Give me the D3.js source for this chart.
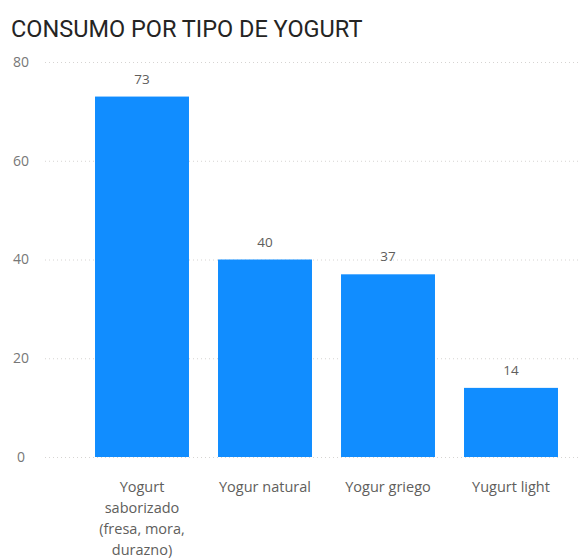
<!DOCTYPE html>
<html>
<head>
<meta charset="utf-8">
<script src="https://cdn.jsdelivr.net/npm/d3@7"></script>
<style>
  html, body { margin: 0; padding: 0; background: #fff; }
  svg { display: block; }
</style>
</head>
<body>
<svg id="chart" width="581" height="560"></svg>
<script>
// Consumption by yogurt type
const categories = [
  ["Yogurt", "saborizado", "(fresa, mora,", "durazno)"],
  ["Yogur natural"],
  ["Yogur griego"],
  ["Yugurt light"]
];
const values = [73, 40, 37, 14];
const yTicks = [0, 20, 40, 60, 80];
const title = "CONSUMO POR TIPO DE YOGURT";

const svg = d3.select("#chart");
const keys = categories.map(c => c.join(" "));

const x = d3.scaleBand()
  .domain(keys)
  .range([80.5, 572.5])
  .paddingInner(0.236)
  .paddingOuter(0.118);

const y = d3.scaleLinear()
  .domain([0, 80])
  .range([457, 62]);

const textFont = "'Open Sans', 'Noto Sans', sans-serif";

// Title
svg.append("text")
  .attr("x", 11)
  .attr("y", 37)
  .attr("font-family", "'Roboto', sans-serif")
  .attr("font-size", 23.5)
  .attr("fill", "#252423")
  .text(title);

// Gridlines (dotted)
svg.append("g")
  .selectAll("line")
  .data(yTicks)
  .join("line")
  .attr("x1", 45)
  .attr("x2", 581)
  .attr("y1", d => y(d) + 0.5)
  .attr("y2", d => y(d) + 0.5)
  .attr("stroke", "#d6d4d2")
  .attr("stroke-width", 1)
  .attr("stroke-dasharray", "1,3");

// Y axis labels
const yAxis = d3.axisLeft(y).tickValues(yTicks).tickSize(0).tickPadding(0);
const gy = svg.append("g").attr("transform", "translate(21,0)").call(yAxis);
gy.select(".domain").remove();
gy.selectAll("text")
  .attr("text-anchor", "middle")
  .attr("font-family", textFont)
  .attr("font-size", 14)
  .attr("fill", "#777");

// Bars
svg.append("g")
  .selectAll("rect")
  .data(values)
  .join("rect")
  .attr("x", (d, i) => x(keys[i]))
  .attr("y", d => y(d))
  .attr("width", x.bandwidth())
  .attr("height", d => y(0) - y(d))
  .attr("fill", "#118DFF");

// Value labels
svg.append("g")
  .selectAll("text")
  .data(values)
  .join("text")
  .attr("x", (d, i) => x(keys[i]) + x.bandwidth() / 2)
  .attr("y", d => y(d) - 13)
  .attr("text-anchor", "middle")
  .attr("font-family", textFont)
  .attr("font-size", 13.5)
  .attr("fill", "#605E5C")
  .text(d => d);

// Category labels (wrapped)
const gx = svg.append("g");
categories.forEach((lines, i) => {
  const t = gx.append("text")
    .attr("x", x(keys[i]) + x.bandwidth() / 2)
    .attr("y", 492)
    .attr("text-anchor", "middle")
    .attr("font-family", textFont)
    .attr("font-size", 14.5)
    .attr("fill", "#605E5C");
  lines.forEach((ln, j) => {
    t.append("tspan")
      .attr("x", x(keys[i]) + x.bandwidth() / 2)
      .attr("dy", j === 0 ? 0 : 21)
      .text(ln);
  });
});
</script>
</body>
</html>
